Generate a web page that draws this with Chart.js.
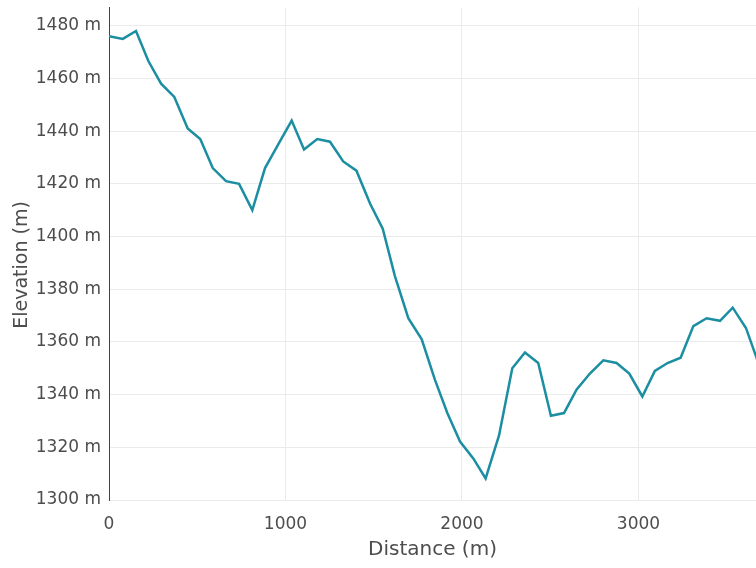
<!DOCTYPE html>
<html>
<head>
<meta charset="utf-8">
<script src="https://cdn.jsdelivr.net/npm/chart.js@4"></script>
<style>
  html, body { margin: 0; padding: 0; background: #fff; }
  #wrap { width: 756px; height: 568px; }
</style>
</head>
<body>
<div id="wrap"><canvas id="elevationChart"></canvas></div>
<script>
// distance along track (m) and elevation (m)
const distances = [0, 78, 153, 223, 295, 370, 446, 517, 588, 663, 737, 812, 884, 959, 1035,
    1105, 1180, 1252, 1327, 1402, 1479, 1551, 1620, 1696, 1772, 1847, 1917, 1989, 2064, 2134,
    2210, 2285, 2357, 2432, 2504, 2578, 2650, 2725, 2801, 2876, 2948, 3022, 3093, 3165, 3239,
    3311, 3386, 3462, 3534, 3609, 3683];
const elevations = [1476, 1475, 1478, 1466.6, 1458, 1453, 1441, 1437, 1426, 1421, 1420, 1410, 1426, 1435, 1444,
    1433, 1437, 1436, 1428.5, 1425, 1412.5, 1403, 1385, 1369, 1361, 1345.6, 1333, 1322.2, 1315.8, 1308.2,
    1324.5, 1350, 1356, 1352, 1332, 1333, 1342, 1348, 1353, 1352, 1348, 1339.3, 1349, 1352, 1354,
    1366, 1369, 1368, 1373, 1365.3, 1351.3];
const xTicks = [0, 1000, 2000, 3000];
const yTicks = [1300, 1320, 1340, 1360, 1380, 1400, 1420, 1440, 1460, 1480];

const points = distances.map((d, i) => ({ x: d, y: elevations[i] }));
const textColor = "#4d4d4d";
const font = "'DejaVu Sans', Verdana, sans-serif";

// y title drawn by hand: in the source it sits a bit below the plot centre
const yTitle = {
    id: "yTitle",
    afterDraw(chart) {
        const ctx = chart.ctx;
        ctx.save();
        ctx.translate(22, 265);
        ctx.rotate(-Math.PI / 2);
        ctx.font = "19px " + font;
        ctx.fillStyle = textColor;
        ctx.textAlign = "center";
        ctx.textBaseline = "middle";
        ctx.fillText("Elevation (m)", 0, 0);
        ctx.restore();
    }
};

new Chart(document.getElementById("elevationChart"), {
    type: "line",
    data: {
        datasets: [{
            data: points,
            borderColor: "#1b8ea1",
            borderWidth: 2.5,
            pointRadius: 0,
            tension: 0,
            fill: false,
        }],
    },
    options: {
        responsive: true,
        maintainAspectRatio: false,
        animation: false,
        layout: { padding: 0 },
        plugins: { legend: { display: false }, tooltip: { enabled: false } },
        scales: {
            x: {
                type: "linear",
                min: 0,
                max: 3666,
                afterBuildTicks: s => { s.ticks = xTicks.map(v => ({ value: v })); },
                afterFit: s => { s.height = 68; },
                grid: { color: "#ebebeb", drawTicks: false },
                border: { display: false },
                ticks: {
                    color: textColor, font: { family: font, size: 17 }, padding: 14,
                    callback: v => String(v),
                },
                title: {
                    display: true, text: "Distance (m)", color: textColor,
                    font: { family: font, size: 20 }, padding: { top: 0, bottom: 6 },
                },
            },
            y: {
                min: 1300,
                max: 1487,
                afterBuildTicks: s => { s.ticks = yTicks.map(v => ({ value: v })); },
                afterFit: s => { s.width = 109; },
                grid: { color: "#ebebeb", drawTicks: true, tickLength: 8, tickColor: "rgba(0,0,0,0)" },
                border: { display: true, color: "#444", width: 1 },
                ticks: {
                    color: textColor, font: { family: font, size: 17, lineHeight: 0.86 }, padding: 0,
                    callback: v => v + " m",
                },
            },
        },
    },
    plugins: [yTitle],
});
</script>
</body>
</html>
